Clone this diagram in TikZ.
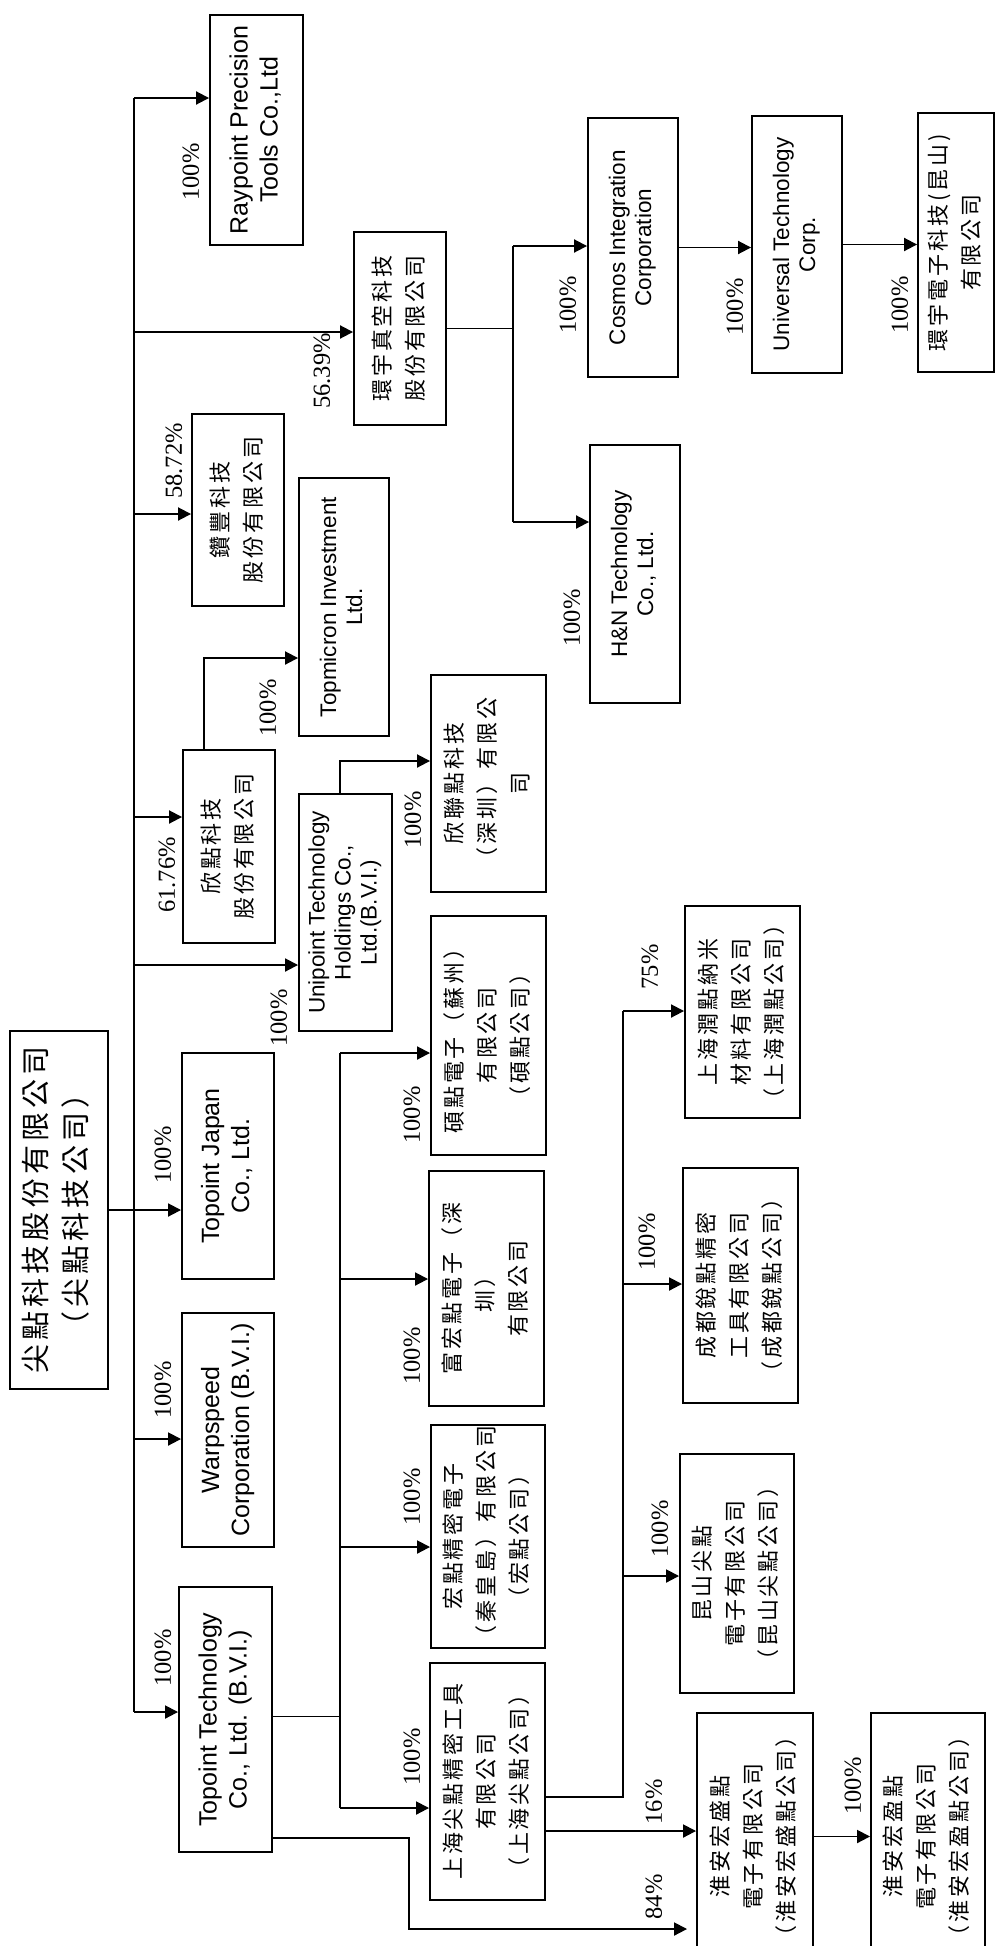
\documentclass[tikz,border=0pt]{standalone}
\usepackage{graphicx}
\usepackage{fontspec}
\setmainfont{Liberation Serif}
\newfontfamily\arialf{Liberation Sans}
\newfontfamily\cjkf{Noto Sans CJK TC}
\usetikzlibrary{arrows.meta}
\newcommand{\rottext}[2]{\rotatebox{90}{#1\begin{tabular}{@{}c@{}}#2\end{tabular}}}
\newcommand{\enL}{\arialf\fontsize{25}{30}\selectfont}
\newcommand{\enS}{\arialf\fontsize{22.5}{26}\selectfont}
\newcommand{\zh}{\cjkf\fontsize{22}{33}\selectfont\addfontfeature{LetterSpace=13.5}}
\newcommand{\zhroot}{\cjkf\fontsize{29}{40}\selectfont\addfontfeature{LetterSpace=14}}
\newcommand{\orgbox}[6]{%
  \node[box, minimum width={#4-#2}, minimum height={#5-#3}] (#1) at ({(#2+#4)/2},{(#3+#5)/2}) {#6};}
\begin{document}
\begin{tikzpicture}[x=1pt,y=-1pt,
  box/.style={draw, line width=1.9pt, inner sep=0pt, align=center},
  ln/.style={line width=1.9pt},
  thinln/.style={line width=1pt},
  arr/.style={line width=1.9pt, -{Triangle[length=13pt,width=13pt]}},
  pct/.style={rotate=90, inner sep=0pt, font=\fontsize{24.5}{24.5}\selectfont}]
\useasboundingbox[fill=white] (0,0) rectangle (1000,1946);

% ---------- boxes ----------
\orgbox{root}{10}{1031}{108}{1389}{\rottext{\zhroot}{尖點科技股份有限公司\\（尖點科技公司）}}
\orgbox{tj}{182}{1053}{274}{1279}{\rottext{\enL}{Topoint Japan\\Co., Ltd.}}
\orgbox{ws}{182}{1313}{274}{1547}{\rottext{\enL}{Warpspeed\\Corporation (B.V.I.)}}
\orgbox{tt}{179}{1587}{272}{1852}{\rottext{\enL}{Topoint Technology\\Co., Ltd. (B.V.I.)}}
\orgbox{xd}{183}{750}{275}{943}{\rottext{\zh}{欣點科技\\股份有限公司}}
\orgbox{tm}{299}{478}{389}{736}{\rottext{\enS}{Topmicron Investment\\Ltd.}}
\orgbox{uni}{299}{794}{392}{1031}{\rottext{\enS}{Unipoint Technology\\Holdings Co.,\\Ltd.(B.V.I.)}}
\orgbox{zf}{192}{414}{284}{606}{\rottext{\zh}{鑽豐科技\\股份有限公司}}
\orgbox{ray}{210}{15}{303}{245}{\rottext{\enL}{Raypoint Precision\\Tools Co.,Ltd}}
\orgbox{hyv}{354}{232}{446}{425}{\rottext{\zh}{環宇真空科技\\股份有限公司}}
\orgbox{cos}{588}{118}{678}{377}{\rottext{\enS}{Cosmos Integration\\Corporation}}
\orgbox{uv}{752}{116}{842}{373}{\rottext{\enS}{Universal Technology\\Corp.}}
\orgbox{hye}{918}{113}{994}{372}{\rottext{\zh}{環宇電子科技(昆山)\\有限公司}}
\orgbox{hn}{590}{445}{680}{703}{\rottext{\enS}{H\&N Technology\\Co., Ltd.}}
\orgbox{xl}{431}{675}{546}{892}{\rottext{\zh}{欣聯點科技\\（深圳）有限公\\司}}
\orgbox{sd}{431}{916}{546}{1155}{\rottext{\zh}{碩點電子（蘇州）\\有限公司\\（碩點公司）}}
\orgbox{fhd}{429}{1171}{544}{1406}{\rottext{\zh}{富宏點電子（深\\圳）\\有限公司}}
\orgbox{hdj}{431}{1425}{545}{1648}{\rottext{\zh}{宏點精密電子\\（秦皇島）有限公司\\（宏點公司）}}
\orgbox{shj}{430}{1663}{545}{1900}{\rottext{\zh}{上海尖點精密工具\\有限公司\\（上海尖點公司）}}
\orgbox{shr}{685}{906}{800}{1118}{\rottext{\zh}{上海潤點納米\\材料有限公司\\（上海潤點公司）}}
\orgbox{cd}{683}{1168}{798}{1403}{\rottext{\zh}{成都銳點精密\\工具有限公司\\（成都銳點公司）}}
\orgbox{ksj}{680}{1454}{794}{1693}{\rottext{\zh}{昆山尖點\\電子有限公司\\（昆山尖點公司）}}
\orgbox{has}{697}{1713}{813}{1960}{\rottext{\zh}{淮安宏盛點\\電子有限公司\\（淮安宏盛點公司）}}
\orgbox{hay}{871}{1713}{985}{1960}{\rottext{\zh}{淮安宏盈點\\電子有限公司\\（淮安宏盈點公司）}}

% ---------- main trunk ----------
\coordinate (t1) at (134,98);
\coordinate (t2) at (134,332);
\coordinate (t3) at (134,514);
\coordinate (t4) at (134,817);
\coordinate (t5) at (134,965);
\coordinate (t6) at (134,1439);
\coordinate (t7) at (134,1712);
\draw[ln] (t1) -- (t7);
\draw[arr] (root.east) -- (root.east -| tj.west);
\draw[arr] (t1) -- (t1 -| ray.west);
\draw[arr] (t2) -- (t2 -| hyv.west);
\draw[arr] (t3) -- (t3 -| zf.west);
\draw[arr] (t4) -- (t4 -| xd.west);
\draw[arr] (t5) -- (t5 -| uni.west);
\draw[arr] (t6) -- (t6 -| ws.west);
\draw[arr] (t7) -- (t7 -| tt.west);

% ---------- Topoint Technology subtree ----------
\coordinate (s1) at (340,1053);
\coordinate (s2) at (340,1279);
\coordinate (s3) at (340,1547);
\coordinate (s4) at (340,1808);
\draw[ln] ([yshift=3pt]tt.east) -- ([yshift=3pt]tt.east -| s1);
\draw[ln] (s1) -- (s4);
\draw[arr] (s1) -- (s1 -| sd.west);
\draw[arr] (s2) -- (s2 -| fhd.west);
\draw[arr] (s3) -- (s3 -| hdj.west);
\draw[arr] (s4) -- (s4 -| shj.west);
\coordinate (c84) at (409,1929);
\draw[arr, shorten >=9pt] ([yshift=-118.5pt]tt.east) -| (c84) -- (c84 -| has.west);

% ---------- Shanghai subtree ----------
\coordinate (k1) at (623,1011);
\coordinate (k2) at (623,1284);
\coordinate (k3) at (623,1576);
\draw[ln] ([yshift=-15.5pt]shj.east) -| (k1);
\draw[arr] (k1) -- (k1 -| shr.west);
\draw[arr] (k2) -- (k2 -| cd.west);
\draw[arr] (k3) -- (k3 -| ksj.west);
\draw[arr] ([yshift=-49.5pt]shj.east) coordinate (q16) -- (q16 -| has.west);
\draw[arr] (has.east) -- (has.east -| hay.west);

% ---------- other subtrees ----------
\draw[arr] ([xshift=-25pt]xd.north) |- ([yshift=-51pt]tm.west);
\draw[arr] ([xshift=-5.5pt]uni.north) |- ([yshift=22.5pt]xl.west);
\coordinate (v1) at (513,246);
\coordinate (v2) at (513,522);
\draw[thinln] (hyv.east) -- (hyv.east -| v1);
\draw[ln] (v1) -- (v2);
\draw[arr] (v1) -- (v1 -| cos.west);
\draw[arr] (v2) -- (v2 -| hn.west);
\draw[arr] (cos.east) -- (cos.east -| uv.west);
\draw[arr] (uv.east) -- (uv.east -| hye.west);

% ---------- percentages ----------
\node[pct] (p1) at (191,172) {100\%};
\node[pct] (p2) at (174,461) {58.72\%};
\node[pct] (p3) at (322,371) {56.39\%};
\node[pct] (p4) at (167,875) {61.76\%};
\node[pct] (p5) at (268,708) {100\%};
\node[pct] (p6) at (279,1018) {100\%};
\node[pct] (p7) at (163,1155) {100\%};
\node[pct] (p8) at (163,1390) {100\%};
\node[pct] (p9) at (163,1658) {100\%};
\node[pct] (p10) at (413,820) {100\%};
\node[pct] (p11) at (412,1115) {100\%};
\node[pct] (p12) at (412,1356) {100\%};
\node[pct] (p13) at (412,1497) {100\%};
\node[pct] (p14) at (412,1757) {100\%};
\node[pct] (p15) at (650,967) {75\%};
\node[pct] (p16) at (647,1242) {100\%};
\node[pct] (p17) at (660,1529) {100\%};
\node[pct] (p18) at (654,1802) {16\%};
\node[pct] (p19) at (654,1897) {84\%};
\node[pct] (p20) at (853,1786) {100\%};
\node[pct] (p21) at (568,305) {100\%};
\node[pct] (p22) at (735,307) {100\%};
\node[pct] (p23) at (900,305) {100\%};
\node[pct] (p24) at (572,618) {100\%};
\end{tikzpicture}
\end{document}
